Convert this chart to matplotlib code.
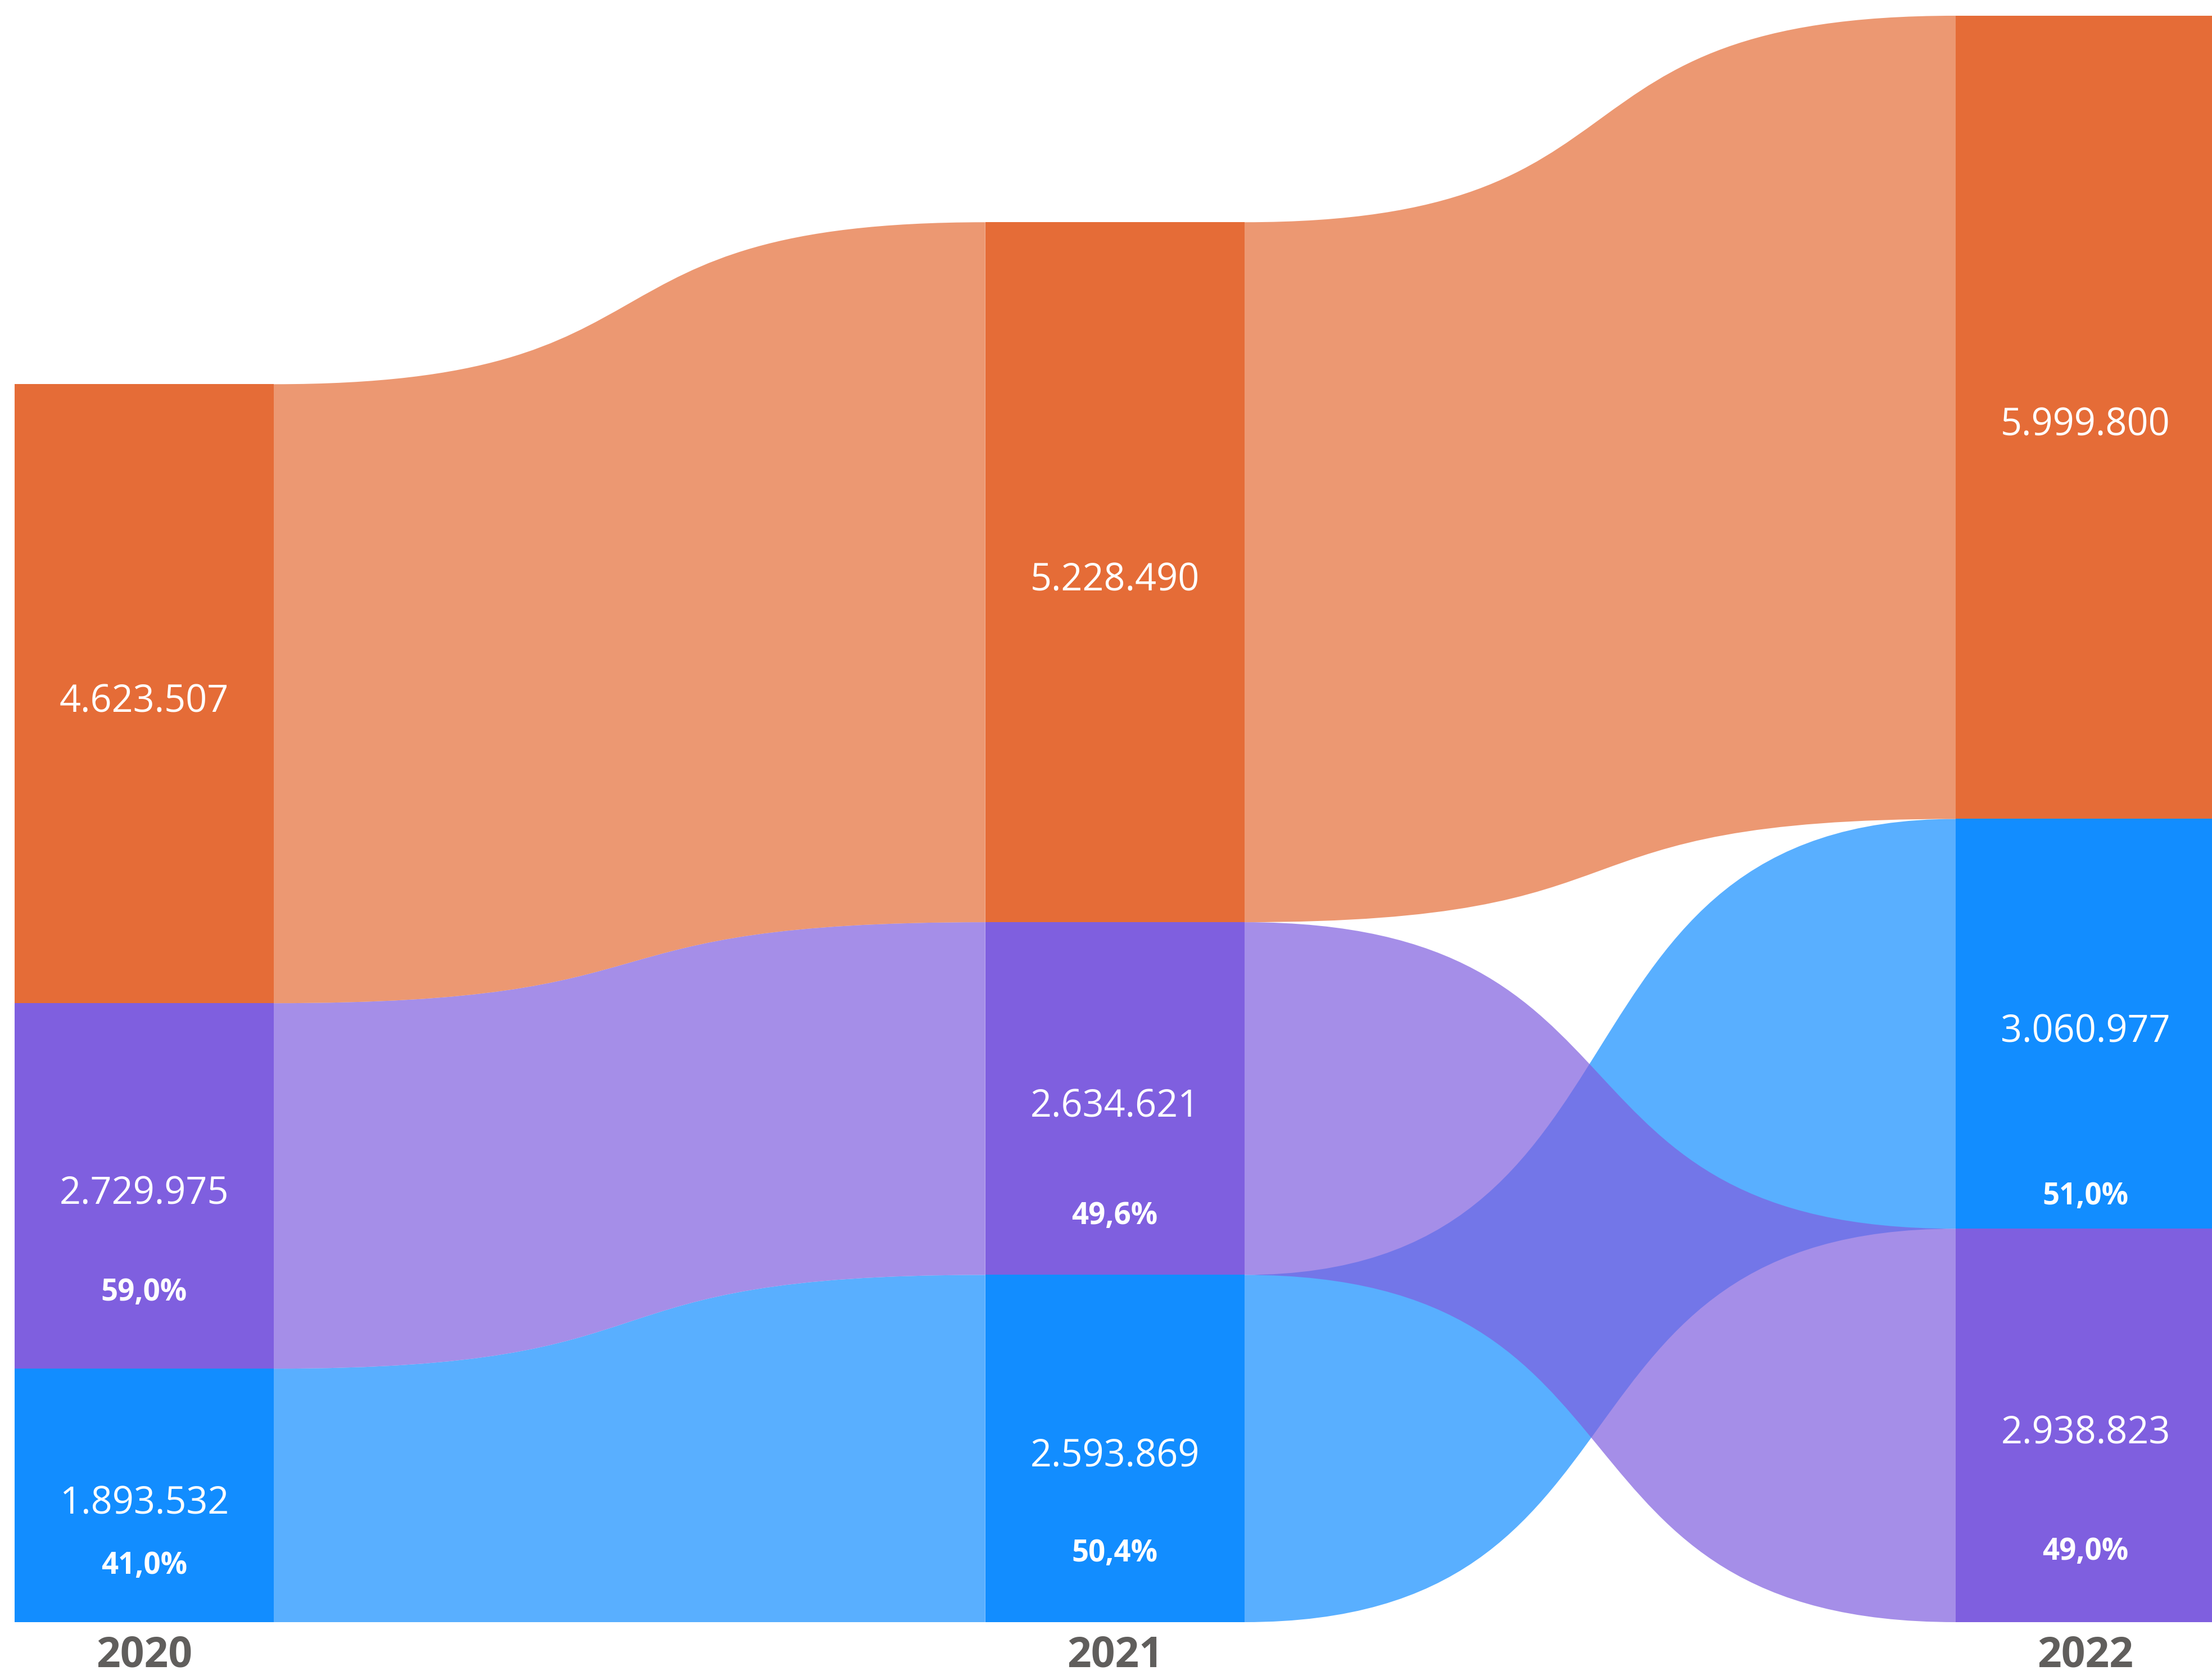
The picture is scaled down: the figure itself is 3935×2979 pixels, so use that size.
import matplotlib
matplotlib.use("Agg")
import matplotlib.pyplot as plt
from matplotlib.path import Path
from matplotlib.patches import PathPatch

# ---------------- data ----------------
years = ["2020", "2021", "2022"]
series_names = ["Total", "Série A", "Série B"]
total_values = [4623507, 5228490, 5999800]
serie_a_values = [2729975, 2634621, 2938823]   # purple
serie_b_values = [1893532, 2593869, 3060977]   # blue
value_labels_total = ["4.623.507", "5.228.490", "5.999.800"]
value_labels_a = ["2.729.975", "2.634.621", "2.938.823"]
value_labels_b = ["1.893.532", "2.593.869", "3.060.977"]
pct_labels_a = ["59,0%", "49,6%", "49,0%"]
pct_labels_b = ["41,0%", "50,4%", "51,0%"]

# ---------------- style ----------------
colors = {"Total": "#E56C37", "Série A": "#7F5FDF", "Série B": "#128DFF"}
ribbon_alpha = 0.7
bar_w = 0.267
curve_k = 0.6          # bezier control-point position (fraction of gap)
year_color = "#605E5C"
font = "Open Sans"
value_dy = -63000      # small downward offset of value labels (data units)
pct_dy = -34000
# vertical position of percentage label as fraction of segment from its top
pct_frac = {("Série A", 0): 0.78, ("Série B", 0): 0.76,
            ("Série A", 1): 0.82, ("Série B", 1): 0.79,
            ("Série A", 2): 0.81, ("Série B", 2): 0.91}

values = {"Total": total_values, "Série A": serie_a_values, "Série B": serie_b_values}
vlabels = {"Total": value_labels_total, "Série A": value_labels_a, "Série B": value_labels_b}
plabels = {"Série A": pct_labels_a, "Série B": pct_labels_b}

fig = plt.figure(figsize=(39.35, 29.79), dpi=100)
ax = fig.add_axes([0, 0, 1, 1])
ax.axis("off")
ax.set_xlim(-0.1485, 2.1303)
ax.set_ylim(-394800, 12117000)

# compute stacking: largest on top
seg = {}  # (name, i) -> (bottom, top)
for i in range(len(years)):
    order = sorted(series_names, key=lambda n: values[n][i])  # smallest first (bottom)
    base = 0
    for n in order:
        seg[(n, i)] = (base, base + values[n][i])
        base += values[n][i]


def ribbon(x0, x1, b0, t0, b1, t1, color):
    g = x1 - x0
    xa = x0 + curve_k * g
    xb = x1 - curve_k * g
    verts = [(x0, t0), (xa, t0), (xb, t1), (x1, t1),
             (x1, b1), (xb, b1), (xa, b0), (x0, b0), (x0, t0)]
    codes = [Path.MOVETO, Path.CURVE4, Path.CURVE4, Path.CURVE4,
             Path.LINETO, Path.CURVE4, Path.CURVE4, Path.CURVE4, Path.CLOSEPOLY]
    ax.add_patch(PathPatch(Path(verts, codes), facecolor=color, edgecolor="none",
                           alpha=ribbon_alpha, zorder=1))


draw_order = ["Série B", "Série A", "Total"]
for i in range(len(years) - 1):
    x0 = i + bar_w / 2
    x1 = i + 1 - bar_w / 2
    for n in draw_order:
        b0, t0 = seg[(n, i)]
        b1, t1 = seg[(n, i + 1)]
        ribbon(x0, x1, b0, t0, b1, t1, colors[n])

for n in series_names:
    for i in range(len(years)):
        b, t = seg[(n, i)]
        ax.bar(i, t - b, bottom=b, width=bar_w, color=colors[n], linewidth=0, zorder=2)
        ax.text(i, (b + t) / 2 + value_dy, vlabels[n][i], ha="center", va="center",
                color="white", fontsize=48, family=font, zorder=3)
        if n in plabels:
            y = t - pct_frac[(n, i)] * (t - b) + pct_dy
            ax.text(i, y, plabels[n][i], ha="center", va="center", color="white",
                    fontsize=38, fontweight="bold", family=font, zorder=3)

for i, yr in enumerate(years):
    ax.text(i, -250000, yr, ha="center", va="center", color=year_color,
            fontsize=54, fontweight="bold", family=font)

fig.savefig("out.png", dpi=100)
